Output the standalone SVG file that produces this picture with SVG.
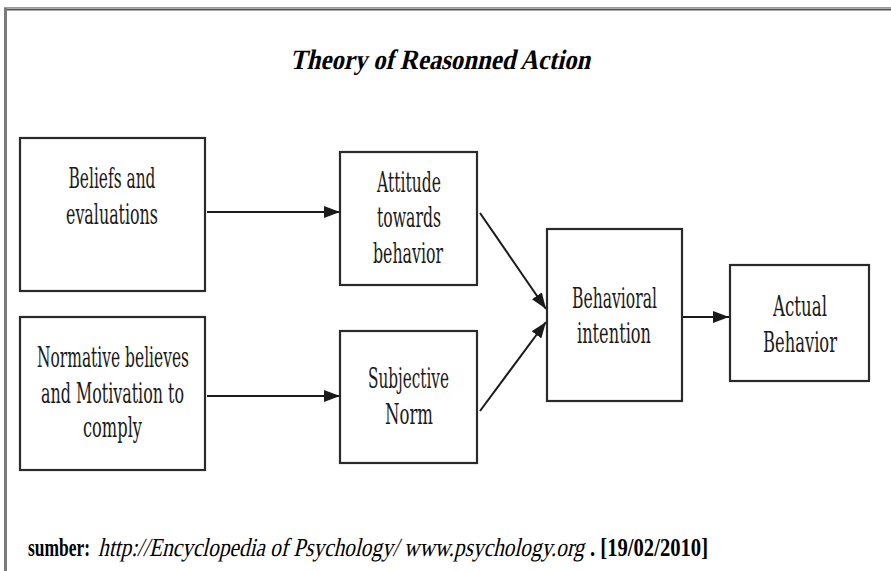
<svg xmlns="http://www.w3.org/2000/svg" width="891" height="571" viewBox="0 0 891 571">
  <style>
    .box { fill: #ffffff; stroke: #2a2a2a; stroke-width: 2.2; }
    .lbl { font-family: "DejaVu Serif", "Liberation Serif", serif; font-size: 27px; fill: #1a1a1a; text-anchor: middle; }
    .edge { stroke: #1a1a1a; stroke-width: 2; fill: none; marker-end: url(#head); }
    .serif { font-family: "Liberation Serif", "Times New Roman", serif; fill: #000; }
    .title { font-size: 28px; font-weight: bold; }
    .src { font-size: 26px; }
  </style>
  <defs>
    <marker id="head" viewBox="0 0 16 12" refX="16" refY="6" markerWidth="16" markerHeight="12" markerUnits="userSpaceOnUse" orient="auto">
      <path d="M0,0 L16,6 L0,12 Z" fill="#1a1a1a"/>
    </marker>
  </defs>

  <rect x="0" y="0" width="891" height="571" fill="#ffffff"/>

  <!-- frame -->
  <g id="frame">
    <line x1="4" y1="7.5" x2="891" y2="7.5" stroke="#9a9a9a" stroke-width="1"/>
    <line x1="4" y1="9.5" x2="891" y2="9.5" stroke="#555" stroke-width="2"/>
    <line x1="5.5" y1="8" x2="5.5" y2="571" stroke="#7a7a7a" stroke-width="3"/>
  </g>

  <!-- heading, slanted by a skew -->
  <g id="title" transform="translate(290,69) skewX(-13)">
    <text class="serif title" x="0" y="0" textLength="300" lengthAdjust="spacingAndGlyphs">Theory of Reasonned Action</text>
  </g>

  <!-- connectors -->
  <g id="connectors">
    <line class="edge" x1="207" y1="212" x2="340" y2="212"/>
    <line class="edge" x1="207" y1="396" x2="340" y2="396"/>
    <line class="edge" x1="480" y1="213" x2="546" y2="309"/>
    <line class="edge" x1="480" y1="411" x2="546" y2="322"/>
    <line class="edge" x1="683" y1="317" x2="729" y2="317"/>
  </g>

  <g id="beliefs">
    <rect class="box" x="20" y="138" width="185" height="153"/>
    <text class="lbl" x="112" y="188" textLength="87" lengthAdjust="spacingAndGlyphs">Beliefs and</text>
    <text class="lbl" x="112" y="224" textLength="92" lengthAdjust="spacingAndGlyphs">evaluations</text>
  </g>

  <g id="attitude">
    <rect class="box" x="340" y="152" width="137" height="133"/>
    <text class="lbl" x="409" y="192" textLength="64" lengthAdjust="spacingAndGlyphs">Attitude</text>
    <text class="lbl" x="409" y="227" textLength="64" lengthAdjust="spacingAndGlyphs">towards</text>
    <text class="lbl" x="408" y="263" textLength="70" lengthAdjust="spacingAndGlyphs">behavior</text>
  </g>

  <g id="normative">
    <rect class="box" x="20" y="317" width="185" height="153"/>
    <text class="lbl" x="113" y="367" textLength="152" lengthAdjust="spacingAndGlyphs">Normative believes</text>
    <text class="lbl" x="112.5" y="403" textLength="143" lengthAdjust="spacingAndGlyphs">and Motivation to</text>
    <text class="lbl" x="112.5" y="437" textLength="59" lengthAdjust="spacingAndGlyphs">comply</text>
  </g>

  <g id="subjective">
    <rect class="box" x="340" y="331" width="137" height="132"/>
    <text class="lbl" x="408.5" y="388" textLength="81" lengthAdjust="spacingAndGlyphs">Subjective</text>
    <text class="lbl" x="409" y="424" textLength="48" lengthAdjust="spacingAndGlyphs">Norm</text>
  </g>

  <g id="intention">
    <rect class="box" x="547" y="229" width="135" height="172"/>
    <text class="lbl" x="614.5" y="308" textLength="85" lengthAdjust="spacingAndGlyphs">Behavioral</text>
    <text class="lbl" x="614" y="343" textLength="74" lengthAdjust="spacingAndGlyphs">intention</text>
  </g>

  <g id="actual">
    <rect class="box" x="730" y="265" width="139" height="116"/>
    <text class="lbl" x="800" y="316" textLength="54" lengthAdjust="spacingAndGlyphs">Actual</text>
    <text class="lbl" x="800" y="352" textLength="74" lengthAdjust="spacingAndGlyphs">Behavior</text>
  </g>

  <!-- source line -->
  <g id="source">
    <text class="serif src" x="28" y="556" font-weight="bold" textLength="62" lengthAdjust="spacingAndGlyphs">sumber:</text>
    <g transform="translate(98,556) skewX(-13)">
      <text class="serif src" x="0" y="0" textLength="486" lengthAdjust="spacingAndGlyphs">http://Encyclopedia of Psychology/ www.psychology.org</text>
    </g>
    <text class="serif src" x="590" y="556" font-weight="bold" textLength="118" lengthAdjust="spacingAndGlyphs">. [19/02/2010]</text>
  </g>
</svg>
